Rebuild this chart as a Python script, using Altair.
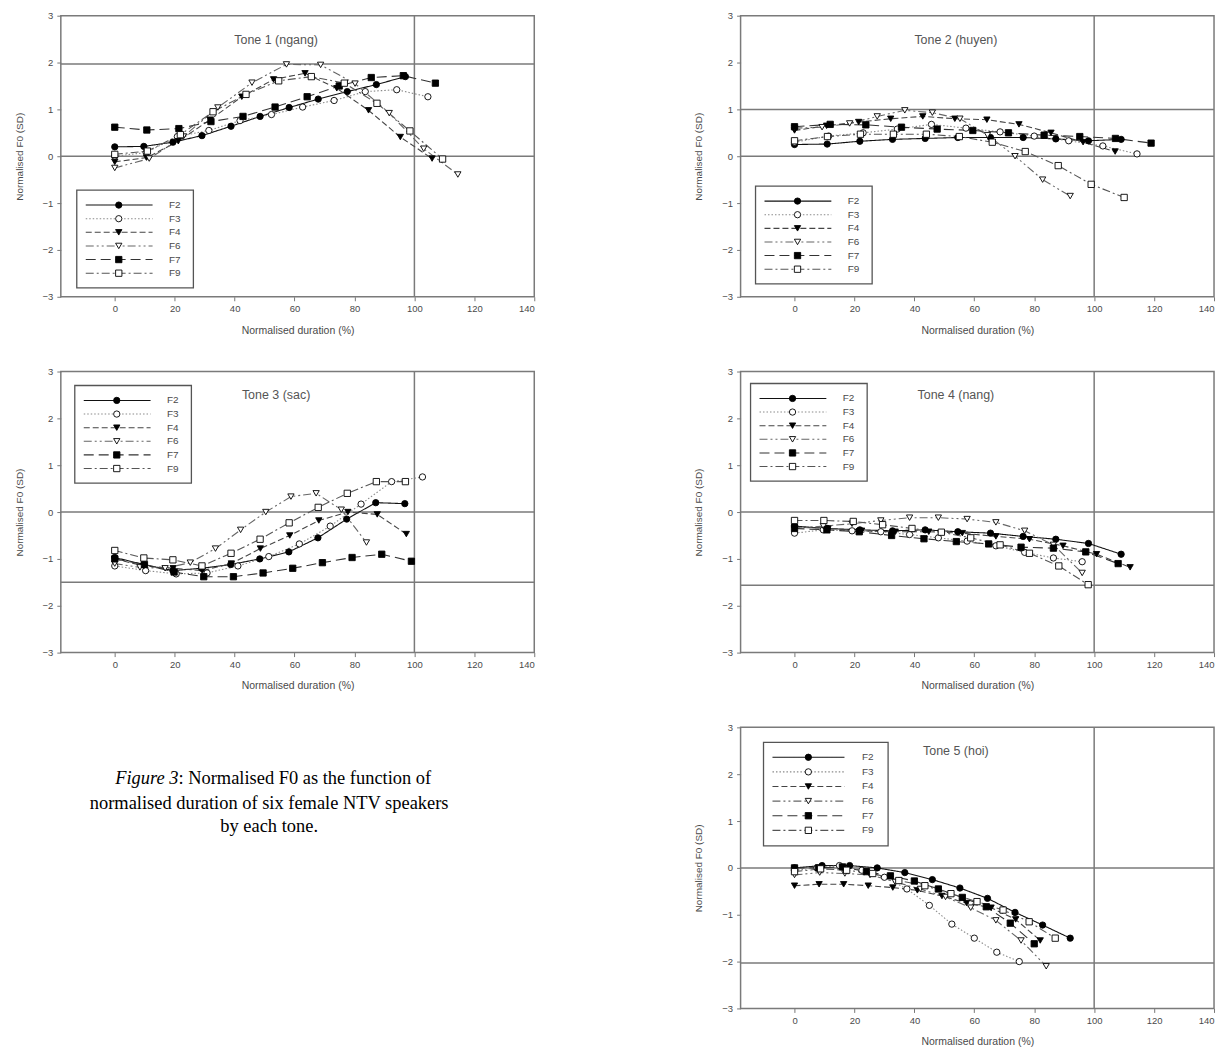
import altair as alt
import pandas as pd

speakers = ["F2", "F3", "F4", "F6", "F7", "F9"]
x_ticks = [0, 20, 40, 60, 80, 100, 120, 140]
y_ticks = [-3, -2, -1, 0, 1, 2, 3]

# ---------------- Tone 1 (ngang) ----------------
tone1_x = {
    "F2": [0, 9.7, 19.4, 29.1, 38.8, 48.5, 58.2, 67.9, 77.6, 87.3, 97.0],
    "F3": [0, 10.5, 20.9, 31.4, 41.8, 52.3, 62.7, 73.2, 83.6, 94.1, 104.5],
    "F4": [0, 10.6, 21.2, 31.8, 42.4, 53.0, 63.5, 74.1, 84.7, 95.3, 105.9],
    "F6": [0, 11.5, 22.9, 34.4, 45.8, 57.3, 68.7, 80.2, 91.6, 103.1, 114.5],
    "F7": [0, 10.7, 21.4, 32.1, 42.8, 53.5, 64.2, 74.9, 85.6, 96.3, 107.0],
    "F9": [0, 10.9, 21.9, 32.8, 43.8, 54.7, 65.6, 76.6, 87.5, 98.5, 109.4],
}
tone1_y = {
    "F2": [0.20, 0.21, 0.30, 0.44, 0.64, 0.85, 1.04, 1.22, 1.38, 1.53, 1.70],
    "F3": [0.00, 0.08, 0.42, 0.55, 0.76, 0.89, 1.05, 1.19, 1.38, 1.42, 1.27],
    "F4": [-0.12, -0.03, 0.32, 0.78, 1.27, 1.64, 1.77, 1.45, 0.98, 0.41, -0.05],
    "F6": [-0.25, -0.05, 0.42, 1.04, 1.57, 1.96, 1.95, 1.55, 0.92, 0.16, -0.39],
    "F7": [0.62, 0.56, 0.59, 0.74, 0.85, 1.05, 1.27, 1.50, 1.68, 1.72, 1.56],
    "F9": [0.04, 0.11, 0.46, 0.95, 1.32, 1.61, 1.70, 1.56, 1.13, 0.54, -0.06],
}

# ---------------- Tone 2 (huyen) ----------------
tone2_x = {
    "F2": [0, 10.9, 21.8, 32.7, 43.6, 54.5, 65.4, 76.3, 87.2, 98.1, 109.0],
    "F3": [0, 11.4, 22.9, 34.3, 45.7, 57.2, 68.6, 80.0, 91.5, 102.9, 114.3],
    "F4": [0, 10.7, 21.4, 32.1, 42.8, 53.5, 64.2, 74.9, 85.6, 96.3, 107.0],
    "F6": [0, 9.2, 18.4, 27.6, 36.8, 46.0, 55.2, 64.4, 73.6, 82.8, 92.0],
    "F7": [0, 11.9, 23.8, 35.7, 47.6, 59.5, 71.4, 83.3, 95.2, 107.1, 119.0],
    "F9": [0, 11.0, 22.0, 33.0, 44.0, 55.0, 66.0, 77.0, 88.0, 99.0, 110.0],
}
tone2_y = {
    "F2": [0.25, 0.26, 0.32, 0.36, 0.38, 0.40, 0.40, 0.40, 0.37, 0.33, 0.36],
    "F3": [0.30, 0.43, 0.50, 0.58, 0.68, 0.60, 0.52, 0.43, 0.33, 0.22, 0.05],
    "F4": [0.55, 0.65, 0.73, 0.80, 0.85, 0.80, 0.78, 0.68, 0.50, 0.30, 0.10],
    "F6": [0.60, 0.62, 0.70, 0.85, 0.98, 0.93, 0.80, 0.45, 0.00, -0.50, -0.85],
    "F7": [0.63, 0.68, 0.67, 0.62, 0.58, 0.55, 0.50, 0.45, 0.42, 0.38, 0.28],
    "F9": [0.33, 0.42, 0.47, 0.47, 0.47, 0.42, 0.30, 0.10, -0.20, -0.60, -0.88],
}

# ---------------- Tone 3 (sac) ----------------
tone3_x = {
    "F2": [0, 9.7, 19.4, 29.0, 38.7, 48.4, 58.1, 67.8, 77.4, 87.1, 96.8],
    "F3": [0, 10.3, 20.5, 30.8, 41.1, 51.4, 61.6, 71.9, 82.2, 92.4, 102.7],
    "F4": [0, 9.7, 19.5, 29.2, 38.9, 48.6, 58.4, 68.1, 77.8, 87.6, 97.3],
    "F6": [0, 8.4, 16.8, 25.2, 33.6, 42.0, 50.4, 58.8, 67.2, 75.6, 84.0],
    "F7": [0, 9.9, 19.8, 29.7, 39.6, 49.5, 59.4, 69.3, 79.2, 89.1, 99.0],
    "F9": [0, 9.7, 19.4, 29.1, 38.8, 48.5, 58.2, 67.9, 77.6, 87.3, 97.0],
}
tone3_y = {
    "F2": [-0.97, -1.12, -1.25, -1.20, -1.12, -1.00, -0.85, -0.55, -0.15, 0.20, 0.18],
    "F3": [-1.15, -1.25, -1.32, -1.30, -1.15, -0.95, -0.68, -0.30, 0.17, 0.65, 0.75],
    "F4": [-1.00, -1.15, -1.20, -1.25, -1.10, -0.78, -0.50, -0.18, 0.00, -0.05, -0.47],
    "F6": [-1.10, -1.18, -1.20, -1.08, -0.78, -0.38, 0.00, 0.33, 0.40, 0.05, -0.65],
    "F7": [-1.00, -1.12, -1.28, -1.38, -1.38, -1.30, -1.20, -1.08, -0.97, -0.90, -1.05],
    "F9": [-0.82, -0.98, -1.02, -1.15, -0.88, -0.58, -0.23, 0.10, 0.40, 0.65, 0.65],
}

# ---------------- Tone 4 (nang) ----------------
tone4_x = {
    "F2": [0, 10.9, 21.8, 32.7, 43.6, 54.5, 65.4, 76.3, 87.2, 98.1, 109.0],
    "F3": [0, 9.6, 19.2, 28.8, 38.4, 48.0, 57.6, 67.2, 76.8, 86.4, 96.0],
    "F4": [0, 11.2, 22.4, 33.6, 44.8, 56.0, 67.2, 78.4, 89.6, 100.8, 112.0],
    "F6": [0, 9.6, 19.2, 28.8, 38.4, 48.0, 57.6, 67.2, 76.8, 86.4, 96.0],
    "F7": [0, 10.8, 21.6, 32.4, 43.2, 54.0, 64.8, 75.6, 86.4, 97.2, 108.0],
    "F9": [0, 9.8, 19.6, 29.4, 39.2, 49.0, 58.8, 68.6, 78.4, 88.2, 98.0],
}
tone4_y = {
    "F2": [-0.30, -0.35, -0.38, -0.40, -0.38, -0.42, -0.45, -0.52, -0.58, -0.67, -0.90],
    "F3": [-0.45, -0.38, -0.40, -0.42, -0.48, -0.55, -0.62, -0.72, -0.86, -0.98, -1.06],
    "F4": [-0.32, -0.35, -0.40, -0.42, -0.42, -0.45, -0.52, -0.58, -0.72, -0.90, -1.18],
    "F6": [-0.35, -0.30, -0.25, -0.18, -0.12, -0.12, -0.15, -0.22, -0.40, -0.70, -1.30],
    "F7": [-0.35, -0.38, -0.42, -0.50, -0.57, -0.63, -0.68, -0.75, -0.77, -0.85, -1.10],
    "F9": [-0.18, -0.18, -0.20, -0.27, -0.35, -0.43, -0.55, -0.70, -0.88, -1.15, -1.55],
}

# ---------------- Tone 5 (hoi) ----------------
tone5_x = {
    "F2": [0, 9.2, 18.4, 27.6, 36.8, 46.0, 55.2, 64.4, 73.6, 82.8, 92.0],
    "F3": [0, 7.5, 15.0, 22.5, 30.0, 37.5, 45.0, 52.5, 60.0, 67.5, 75.0],
    "F4": [0, 8.2, 16.4, 24.6, 32.8, 41.0, 49.2, 57.4, 65.6, 73.8, 82.0],
    "F6": [0, 8.4, 16.8, 25.2, 33.6, 42.0, 50.4, 58.8, 67.2, 75.6, 84.0],
    "F7": [0, 8.0, 16.0, 24.0, 32.0, 40.0, 48.0, 56.0, 64.0, 72.0, 80.0],
    "F9": [0, 8.7, 17.4, 26.1, 34.8, 43.5, 52.2, 60.9, 69.6, 78.3, 87.0],
}
tone5_y = {
    "F2": [0.00, 0.05, 0.05, 0.00, -0.10, -0.25, -0.43, -0.65, -0.95, -1.22, -1.50],
    "F3": [-0.05, 0.00, 0.05, -0.05, -0.20, -0.45, -0.80, -1.20, -1.50, -1.80, -2.00],
    "F4": [-0.38, -0.35, -0.35, -0.38, -0.42, -0.48, -0.60, -0.75, -0.85, -1.10, -1.55],
    "F6": [-0.15, -0.10, -0.12, -0.15, -0.30, -0.45, -0.62, -0.85, -1.12, -1.55, -2.10],
    "F7": [0.00, 0.00, 0.02, -0.08, -0.17, -0.28, -0.45, -0.63, -0.83, -1.18, -1.62],
    "F9": [-0.08, -0.02, -0.05, -0.12, -0.27, -0.38, -0.55, -0.72, -0.90, -1.15, -1.50],
}

tone_titles = ["Tone 1 (ngang)", "Tone 2 (huyen)", "Tone 3 (sac)", "Tone 4 (nang)", "Tone 5 (hoi)"]
tone_refs = [1.97, 1.0, -1.5, -1.56, -2.03]

caption_italic = "Figure 3"
caption_lines = [": Normalised F0 as the function of",
                 "normalised duration of six female NTV speakers",
                 "by each tone."]

# ---------------- styles ----------------
dashes = {"F2": [1, 0], "F3": [1.5, 2], "F4": [6, 3], "F6": [8, 3, 2, 3, 2, 3],
          "F7": [10, 5], "F9": [8, 3, 2, 3]}
line_colors = {"F2": "#111111", "F3": "#8a8a8a", "F4": "#444444", "F6": "#666666",
               "F7": "#333333", "F9": "#555555"}
shapes = {"F2": "circle", "F3": "circle", "F4": "triangle-down", "F6": "triangle-down",
          "F7": "square", "F9": "square"}
fills = {"F2": "black", "F3": "white", "F4": "black", "F6": "white", "F7": "black", "F9": "white"}

FONT = "Liberation Sans"
TXT = "#4a4a4a"
W, H = 475, 282
MSIZE = 40
dummy = pd.DataFrame({"k": [0]})


def legend_layers(left, top, bw=117, bh=98):
    layers = [alt.Chart(dummy).mark_rect(fill="white", stroke="#555555", strokeWidth=1.3).encode(
        x=alt.value(left), x2=alt.value(left + bw), y=alt.value(top), y2=alt.value(top + bh))]
    step = (bh - 16) / 6.0
    for i, s in enumerate(speakers):
        yy = top + 15 + step * i
        layers.append(alt.Chart(dummy).mark_rule(strokeDash=dashes[s], color=line_colors[s],
                                                 strokeWidth=1.1).encode(
            x=alt.value(left + 9), x2=alt.value(left + 0.65 * bw), y=alt.value(yy)))
        layers.append(alt.Chart(dummy).mark_point(shape=shapes[s], filled=True, fill=fills[s],
                                                  stroke="black", strokeWidth=0.9, size=MSIZE,
                                                  opacity=1).encode(
            x=alt.value(left + 0.36 * bw), y=alt.value(yy)))
        layers.append(alt.Chart(dummy).mark_text(align="left", baseline="middle", fontSize=10,
                                                 font=FONT, color=TXT).encode(
            x=alt.value(left + 0.79 * bw), y=alt.value(yy), text=alt.value(s)))
    return layers


def panel(idx, xs, ys, legend_left, legend_top, bw=117, bh=98):
    rows = []
    for s in speakers:
        for xv, yv in zip(xs[s], ys[s]):
            rows.append({"speaker": s, "dur": xv, "f0": yv})
    df = pd.DataFrame(rows)
    xscale = alt.Scale(domain=[-18, 140], nice=False, zero=False)
    yscale = alt.Scale(domain=[-3, 3], nice=False, zero=False)
    xaxis = alt.Axis(values=x_ticks, domain=False, grid=False, tickSize=4, tickColor="#777777",
                     labelFontSize=9.5, labelColor=TXT, labelFont=FONT, labelPadding=3,
                     title="Normalised duration (%)", titleFontSize=10.5, titleFont=FONT,
                     titleColor=TXT, titleFontWeight="normal", titlePadding=12)
    yaxis = alt.Axis(values=y_ticks, domain=False, grid=False, tickSize=4, tickColor="#777777",
                     labelFontSize=9.5, labelColor=TXT, labelFont=FONT, labelPadding=4,
                     title="Normalised F0 (SD)", titleFontSize=10, titleFont=FONT,
                     titleColor=TXT, titleFontWeight="normal", titlePadding=18)
    X = alt.X("dur:Q", scale=xscale, axis=xaxis)
    Y = alt.Y("f0:Q", scale=yscale, axis=yaxis)

    hrules = alt.Chart(pd.DataFrame({"v": [0.0, tone_refs[idx]]})).mark_rule(
        color="#7a7a7a", strokeWidth=1.5).encode(y=alt.Y("v:Q", scale=yscale, axis=yaxis))
    vrule = alt.Chart(pd.DataFrame({"u": [100]})).mark_rule(
        color="#7a7a7a", strokeWidth=1.5).encode(x=alt.X("u:Q", scale=xscale, axis=xaxis))

    lines = alt.Chart(df).mark_line(strokeWidth=1.1).encode(
        x=X, y=Y,
        strokeDash=alt.StrokeDash("speaker:N", scale=alt.Scale(domain=speakers, range=[dashes[s] for s in speakers]), legend=None),
        color=alt.Color("speaker:N", scale=alt.Scale(domain=speakers, range=[line_colors[s] for s in speakers]), legend=None),
    )
    pts = alt.Chart(df).mark_point(filled=True, stroke="black", strokeWidth=0.9, size=MSIZE, opacity=1).encode(
        x=X, y=Y,
        shape=alt.Shape("speaker:N", scale=alt.Scale(domain=speakers, range=[shapes[s] for s in speakers]), legend=None),
        fill=alt.Fill("speaker:N", scale=alt.Scale(domain=speakers, range=[fills[s] for s in speakers]), legend=None),
    )
    title = alt.Chart(dummy).mark_text(fontSize=12.5, font=FONT, color="#555555", baseline="middle").encode(
        x=alt.value(216), y=alt.value(24), text=alt.value(tone_titles[idx]))
    layers = [hrules, vrule, lines, pts, title] + legend_layers(legend_left, legend_top, bw, bh)
    return alt.layer(*layers).properties(width=W, height=H)


p1 = panel(0, tone1_x, tone1_y, 16, 175)
p2 = panel(1, tone2_x, tone2_y, 15, 171)
p3 = panel(2, tone3_x, tone3_y, 14, 14)
p4 = panel(3, tone4_x, tone4_y, 10, 12)
p5 = panel(4, tone5_x, tone5_y, 23, 15, 125, 104)

SERIF = "Liberation Serif"
cap_layers = [
    alt.Chart(dummy).mark_text(align="right", baseline="middle", fontSize=18.5, font=SERIF,
                               fontStyle="italic", color="black").encode(
        x=alt.value(118), y=alt.value(51), text=alt.value(caption_italic)),
    alt.Chart(dummy).mark_text(align="left", baseline="middle", fontSize=18.5, font=SERIF,
                               color="black").encode(
        x=alt.value(118), y=alt.value(51), text=alt.value(caption_lines[0])),
    alt.Chart(dummy).mark_text(align="center", baseline="middle", fontSize=18.5, font=SERIF,
                               color="black").encode(
        x=alt.value(209), y=alt.value(76), text=alt.value(caption_lines[1])),
    alt.Chart(dummy).mark_text(align="center", baseline="middle", fontSize=18.5, font=SERIF,
                               color="black").encode(
        x=alt.value(209), y=alt.value(99), text=alt.value(caption_lines[2])),
]
cap = alt.layer(*cap_layers).properties(width=W, height=H, view=alt.ViewBackground(strokeOpacity=0))

chart = alt.concat(p1, p2, p3, p4, cap, p5, columns=2,
                   spacing=alt.RowColnumber(row=29, column=157)).properties(
    padding={"left": 5, "top": 0, "right": 5, "bottom": 5}
).configure_view(stroke="#7a7a7a", strokeWidth=1.5)

chart.save("out.html", embed_options={"renderer": "svg", "actions": False})
